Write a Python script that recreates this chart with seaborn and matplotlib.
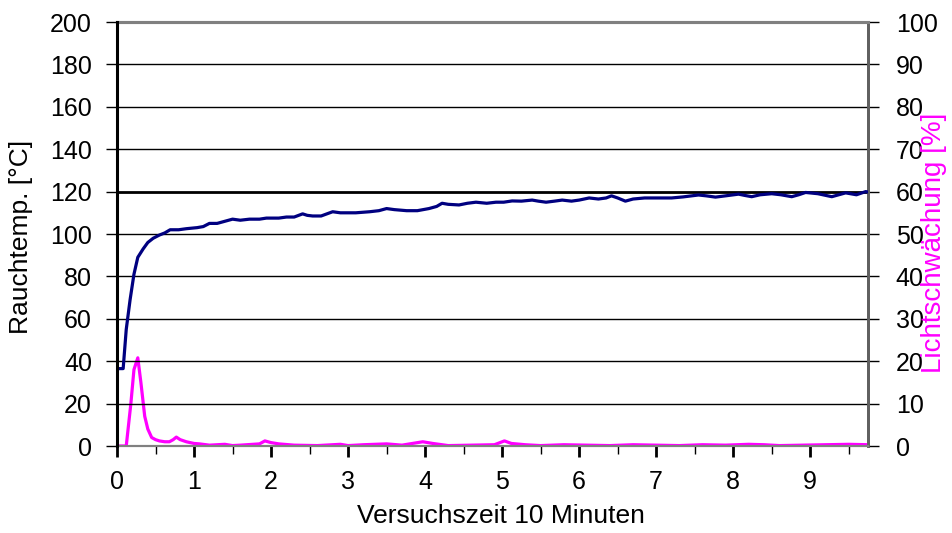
import matplotlib
matplotlib.use("Agg")
import matplotlib.pyplot as plt
import seaborn as sns
import pandas as pd
from matplotlib.ticker import MultipleLocator

# ---- data -------------------------------------------------------------
temp_time = [0, 0.08, 0.12, 0.17, 0.22, 0.27, 0.34, 0.40, 0.47, 0.55,
             0.62, 0.69, 0.80, 0.90, 1.04, 1.12, 1.20, 1.30, 1.40, 1.50,
             1.60, 1.72, 1.85, 1.94, 2.10, 2.20, 2.30, 2.41, 2.47, 2.54,
             2.65, 2.80, 2.90, 2.98, 3.10, 3.28, 3.40, 3.50, 3.60, 3.76,
             3.90, 4.05, 4.15, 4.22, 4.30, 4.44, 4.55, 4.66, 4.80, 4.92,
             5.02, 5.13, 5.25, 5.39, 5.47, 5.57, 5.68, 5.78, 5.90, 6.00,
             6.13, 6.25, 6.35, 6.42, 6.50, 6.60, 6.70, 6.85, 7.03, 7.20,
             7.35, 7.55, 7.65, 7.77, 7.90, 8.07, 8.15, 8.24, 8.35, 8.50,
             8.62, 8.76, 8.85, 8.94, 9.10, 9.28, 9.37, 9.46, 9.60, 9.72,
             9.75]
temp_values = [36.5, 36.5, 55, 69, 81, 89, 93, 96, 98, 99.5,
               100.5, 102, 102, 102.5, 103, 103.5, 105, 105, 106, 107,
               106.5, 107, 107, 107.5, 107.5, 108, 108, 109.5, 108.8, 108.5,
               108.5, 110.5, 110, 110, 110, 110.5, 111, 112, 111.5, 111,
               111, 112, 113, 114.5, 114, 113.7, 114.5, 115, 114.5, 115,
               115, 115.6, 115.5, 116, 115.5, 115, 115.5, 116, 115.5, 116,
               117, 116.5, 117, 118, 117, 115.5, 116.5, 117, 117, 117,
               117.5, 118.4, 118, 117.4, 118, 118.8, 118.2, 117.6, 118.5, 119,
               118.5, 117.6, 118.5, 119.6, 119, 117.6, 118.5, 119.4, 118.5, 120,
               119.8]

light_time = [0, 0.12, 0.18, 0.22, 0.27, 0.31, 0.36, 0.40, 0.45, 0.50,
              0.55, 0.62, 0.68, 0.73, 0.77, 0.82, 0.90, 1.00, 1.07, 1.2,
              1.4, 1.5, 1.6, 1.85, 1.92, 2.0, 2.1, 2.3, 2.6, 2.9,
              3.0, 3.2, 3.5, 3.7, 3.97, 4.1, 4.3, 4.6, 4.9, 5.03,
              5.12, 5.3, 5.5, 5.8, 6.1, 6.4, 6.7, 7.0, 7.3, 7.6,
              7.9, 8.2, 8.4, 8.6, 8.9, 9.2, 9.5, 9.75]
light_values = [0, 0, 10, 18, 20.8, 15, 7, 4, 2, 1.5,
                1.2, 1.0, 1.0, 1.5, 2.1, 1.5, 1.0, 0.6, 0.5, 0.2,
                0.4, 0.1, 0.2, 0.5, 1.2, 0.8, 0.5, 0.2, 0.1, 0.4,
                0.1, 0.3, 0.5, 0.2, 1.0, 0.6, 0.1, 0.2, 0.3, 1.2,
                0.6, 0.3, 0.1, 0.3, 0.2, 0.1, 0.3, 0.2, 0.1, 0.3,
                0.2, 0.4, 0.3, 0.1, 0.2, 0.3, 0.4, 0.3]

x_ticks = [0, 1, 2, 3, 4, 5, 6, 7, 8, 9]
left_ticks = [0, 20, 40, 60, 80, 100, 120, 140, 160, 180, 200]
right_ticks = [0, 10, 20, 30, 40, 50, 60, 70, 80, 90, 100]

x_label = "Versuchszeit 10 Minuten"
left_label = "Rauchtemp. [°C]"
right_label = "Lichtschwächung [%]"

# ---- style ------------------------------------------------------------
sns.set_style("white")
plt.rcParams["font.family"] = ["Liberation Sans", "DejaVu Sans"]
for k in ("text.color", "axes.labelcolor", "xtick.color", "ytick.color",
          "xtick.labelcolor", "ytick.labelcolor"):
    plt.rcParams[k] = "black"
FS = 18

temp_df = pd.DataFrame({"t": temp_time, "v": temp_values})
light_df = pd.DataFrame({"t": light_time, "v": light_values})

fig = plt.figure(figsize=(9.52, 5.33), dpi=100)
ax = fig.add_axes([117 / 952, 1 - 446 / 533, (868 - 117) / 952, (446 - 22) / 533])
ax2 = ax.twinx()

# grid lines (left axis)
for yv in left_ticks[1:-1]:
    ax.axhline(yv, color="black", lw=2.0 if yv == 120 else 1.0, zorder=1)

sns.lineplot(data=temp_df, x="t", y="v", ax=ax, color="#000080", lw=2.3,
             zorder=3)
sns.lineplot(data=light_df, x="t", y="v", ax=ax2, color="#FF00FF", lw=2.3,
             zorder=3)

ax.set_xlim(0, 9.75)
ax.set_ylim(0, 200)
ax2.set_ylim(0, 100)

ax.set_xticks(x_ticks)
ax.set_xticklabels([str(v) for v in x_ticks], fontsize=FS)
ax.xaxis.set_minor_locator(MultipleLocator(0.5))
ax.set_yticks(left_ticks)
ax.set_yticklabels([str(v) for v in left_ticks], fontsize=FS)
ax2.set_yticks(right_ticks)
ax2.set_yticklabels([str(v) for v in right_ticks], fontsize=FS)

ax.tick_params(axis="x", which="major", direction="out", length=8, width=2,
               color="black", pad=9, bottom=True)
ax.tick_params(axis="x", which="minor", direction="out", length=6, width=1,
               color="black", bottom=True)
ax.tick_params(axis="y", direction="out", length=8, width=1, color="black",
               pad=10, left=True)
ax2.tick_params(axis="y", direction="out", length=8, width=1, color="black",
                pad=12, right=True)

ax.set_xlabel(x_label, fontsize=FS + 1)
ax.set_ylabel(left_label, fontsize=FS + 1)
ax2.set_ylabel(right_label, fontsize=FS + 2, color="#FF00FF")
ax.xaxis.set_label_coords(0.511, -0.137)
ax.yaxis.set_label_coords(-0.112, 0.493)
ax2.yaxis.set_label_coords(1.071, 0.479)

for a in (ax, ax2):
    for s in a.spines.values():
        s.set_visible(True)
ax.spines["left"].set_color("black")
ax.spines["left"].set_linewidth(2.2)
ax2.spines["left"].set_visible(False)
for a in (ax, ax2):
    a.spines["top"].set_color("#808080")
    a.spines["top"].set_linewidth(2.2)
    a.spines["bottom"].set_color("#808080")
    a.spines["bottom"].set_linewidth(1.5)
    a.spines["right"].set_color("#606060")
    a.spines["right"].set_linewidth(2.0)
ax.set_zorder(ax2.get_zorder() + 1)
ax.patch.set_visible(False)
ax.spines["left"].set_zorder(5)

fig.savefig("out.png", dpi=100)
